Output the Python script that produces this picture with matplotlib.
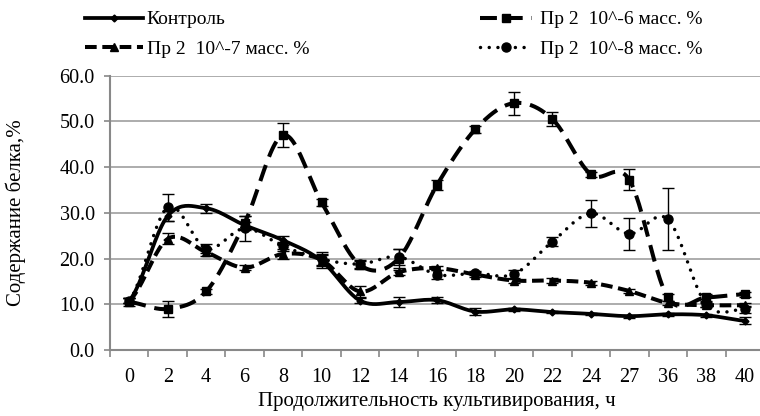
import numpy as np
import matplotlib
matplotlib.use("Agg")
import matplotlib.pyplot as plt
from matplotlib.lines import Line2D

plt.rcParams['font.family'] = ['Liberation Serif', 'DejaVu Serif']

categories = ['0', '2', '4', '6', '8', '10', '12', '14', '16', '18', '20', '22', '24', '27', '36', '38', '40']

control = [10.8, 29.3, 31.0, 27.3, 24.0, 19.5, 10.8, 10.5, 10.9, 8.4, 8.9, 8.3, 7.9, 7.4, 7.8, 7.6, 6.4]
control_err = [0.5, 1.0, 1.0, 0.8, 1.0, 1.5, 0.5, 1.0, 0.7, 0.8, 0.3, 0.3, 0.3, 0.3, 0.3, 0.3, 0.8]

p6 = [10.5, 9.0, 12.8, 27.8, 47.0, 32.3, 18.6, 20.0, 36.1, 48.3, 54.0, 50.5, 38.4, 37.2, 11.5, 11.5, 12.2]
p6_err = [0.8, 1.8, 0.5, 1.5, 2.7, 0.8, 0.8, 2.0, 1.0, 0.8, 2.5, 1.5, 0.5, 2.3, 0.8, 0.8, 0.5]

p7 = [10.8, 24.3, 21.4, 18.0, 21.0, 19.7, 12.8, 17.0, 17.9, 16.5, 15.2, 15.2, 14.7, 12.9, 10.3, 9.8, 9.8]
p7_err = [0.5, 1.2, 0.8, 0.5, 1.0, 1.0, 1.2, 0.5, 0.5, 0.5, 0.5, 0.5, 0.5, 0.5, 0.5, 0.5, 0.5]

p8 = [10.8, 31.2, 22.2, 26.6, 22.7, 19.9, 18.8, 20.4, 16.5, 16.8, 16.6, 23.7, 29.9, 25.4, 28.6, 10.0, 8.9]
p8_err = [0.5, 3.0, 1.0, 2.7, 1.0, 1.5, 0.8, 1.8, 1.0, 0.5, 1.0, 1.0, 3.0, 3.5, 6.8, 0.5, 0.8]

labels = ['Контроль', 'Пр 2  10^-6 масс. %', 'Пр 2  10^-7 масс. %', 'Пр 2  10^-8 масс. %']


def smooth(y, n=24):
    y = np.asarray(y, float)
    m = len(y)
    xs, ys = [], []
    for i in range(m - 1):
        y0 = y[i - 1] if i > 0 else y[i]
        y3 = y[i + 2] if i + 2 < m else y[i + 1]
        c1 = y[i] + (y[i + 1] - y0) / 6.0
        c2 = y[i + 1] - (y3 - y[i]) / 6.0
        t = np.linspace(0, 1, n, endpoint=(i == m - 2))
        b = ((1 - t) ** 3 * y[i] + 3 * (1 - t) ** 2 * t * c1
             + 3 * (1 - t) * t ** 2 * c2 + t ** 3 * y[i + 1])
        xs.append(i + t)
        ys.append(b)
    return np.concatenate(xs), np.concatenate(ys)


fig = plt.figure(figsize=(7.6, 4.16), dpi=100)
ax = fig.add_axes([110 / 760, 66 / 416, 654 / 760, (350 - 75.7) / 416])

x = np.arange(len(categories))

styles = [
    dict(data=control, err=control_err, dashes=None, lw=2.7, marker='D', ms=3.5, cap='butt'),
    dict(data=p6, err=p6_err, dashes=(4.2, 2.2), lw=2.9, marker='s', ms=5.5, cap='butt'),
    dict(data=p7, err=p7_err, dashes=(2.9, 1.4), lw=2.9, marker='^', ms=6, cap='butt'),
    dict(data=p8, err=p8_err, dashes=(0.01, 2.5), lw=2.5, marker='o', ms=6.5, cap='round'),
]

handles = []
for st, lab in zip(styles, labels):
    sx, sy = smooth(st['data'])
    line, = ax.plot(sx, sy, color='black', lw=st['lw'], solid_capstyle='round',
                    dash_capstyle=st['cap'], zorder=3)
    if st['dashes'] is not None:
        line.set_dashes(st['dashes'])
    ax.errorbar(x, st['data'], yerr=st['err'], fmt='none', ecolor='black',
                elinewidth=1.0, capsize=4, capthick=1.0, zorder=4)
    ax.plot(x, st['data'], ls='none', marker=st['marker'], ms=st['ms'],
            color='black', zorder=5)
    h = Line2D([0], [0], color='black', lw=st['lw'], marker=st['marker'],
               ms=st['ms'], dash_capstyle=st['cap'])
    if st['dashes'] is not None:
        h.set_dashes(st['dashes'])
    handles.append(h)

ax.set_xlim(-0.5, len(categories) - 0.5)
ax.set_ylim(0, 60)
ax.set_yticks(np.arange(0, 61, 10))
ax.set_yticklabels([f'{v:.1f}' for v in np.arange(0, 61, 10)], fontsize=14.5)
ax.set_xticks(x)
ax.set_xticklabels(categories, fontsize=14.5)
ax.set_xticks(np.arange(-0.5, len(categories), 1), minor=True)
ax.tick_params(axis='x', which='major', length=0, pad=13)
ax.tick_params(axis='x', which='minor', length=5, width=1.2, color='#888888', direction='out')
ax.tick_params(axis='y', length=4, width=1.2, color='#888888', direction='out', pad=7)

ax.grid(axis='y', color='#a6a6a6', lw=1.3, zorder=0)
ax.set_axisbelow(True)
for s in ['top', 'right']:
    ax.spines[s].set_visible(False)
for s in ['left', 'bottom']:
    ax.spines[s].set_color('#888888')
    ax.spines[s].set_linewidth(1.5)

ax.set_xlabel('Продолжительность культивирования, ч', fontsize=15)
ax.set_ylabel('Содержание белка,%', fontsize=15)
ax.xaxis.set_label_coords(0.5, (350 - 392) / 274.3)
ax.yaxis.set_label_coords((26 - 110) / 654, 0.5)

leg1 = fig.legend([handles[0], handles[2]], [labels[0], labels[2]],
                  loc='upper left', bbox_to_anchor=(77 / 760, 1 - 3 / 416),
                  frameon=False, fontsize=14, handlelength=2.98, handletextpad=0.2,
                  labelspacing=0.6, borderaxespad=0)
leg2 = fig.legend([handles[1], handles[3]], [labels[1], labels[3]],
                  loc='upper left', bbox_to_anchor=(472 / 760, 1 - 3 / 416),
                  frameon=False, fontsize=14, handlelength=2.7, handletextpad=0.4,
                  labelspacing=0.6, borderaxespad=0)

fig.savefig('out.png', dpi=100)
